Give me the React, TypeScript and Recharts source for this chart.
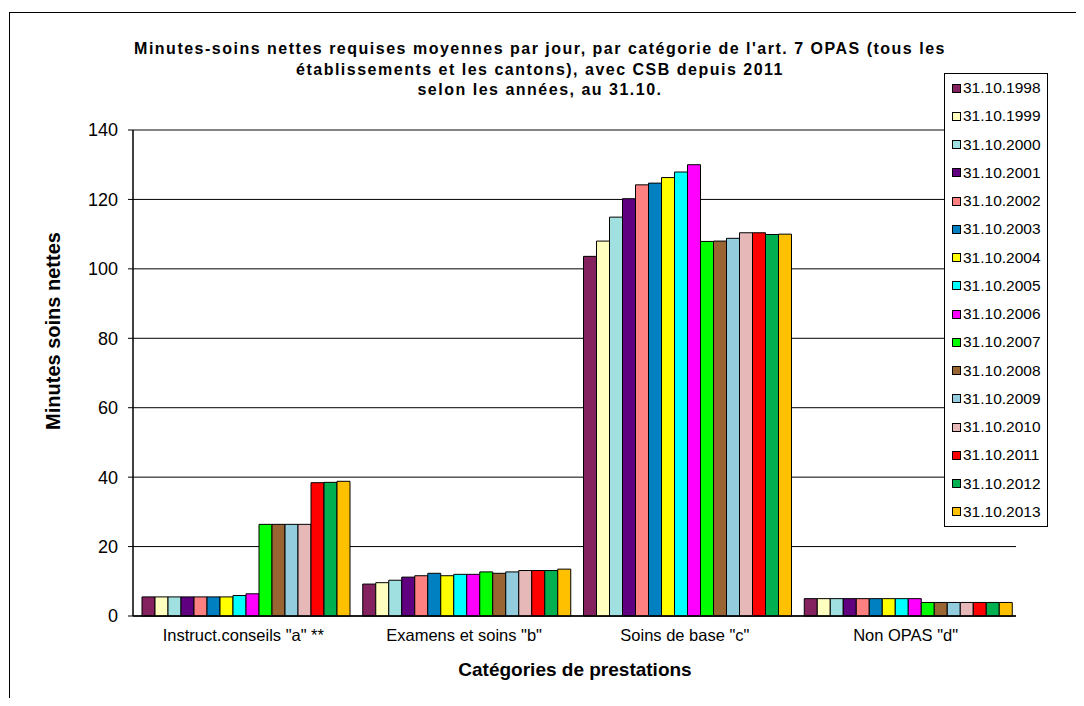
import { Bar, BarChart, CartesianGrid, ReferenceLine, XAxis, YAxis } from 'recharts'

const CATEGORIES = ['Instruct.conseils "a" **', 'Examens et soins "b"', 'Soins de base "c"', 'Non OPAS "d"']

const YEARS = [
  '31.10.1998', '31.10.1999', '31.10.2000', '31.10.2001', '31.10.2002', '31.10.2003', '31.10.2004', '31.10.2005',
  '31.10.2006', '31.10.2007', '31.10.2008', '31.10.2009', '31.10.2010', '31.10.2011', '31.10.2012', '31.10.2013',
]

const COLORS = [
  '#84215F', '#FFFFC0', '#A0E0E0', '#600080', '#FF8080', '#0080C0', '#FFFF00', '#00FFFF',
  '#FF00FF', '#00FF00', '#996633', '#93CDDD', '#E6B9B8', '#FF0000', '#00B050', '#FFC000',
]

// one value per year, 1998 -> 2013
const INSTRUCT = [5.5, 5.5, 5.5, 5.5, 5.5, 5.5, 5.5, 5.9, 6.4, 26.4, 26.4, 26.4, 26.4, 38.4, 38.5, 38.8]
const EXAMENS = [9.2, 9.6, 10.3, 11.2, 11.6, 12.3, 11.6, 12.0, 12.0, 12.7, 12.3, 12.7, 13.1, 13.1, 13.1, 13.5]
const SOINS_BASE = [103.6, 108.0, 114.9, 120.2, 124.2, 124.7, 126.3, 127.9, 130.0, 107.9, 108.0, 108.8, 110.4, 110.4, 109.9, 110.0]
const NON_OPAS = [5.0, 5.0, 5.0, 5.0, 5.0, 5.0, 5.0, 5.0, 5.0, 3.9, 3.9, 3.9, 3.9, 3.9, 3.9, 3.9]

const Y_TICKS = [0, 20, 40, 60, 80, 100, 120, 140]
const EDGE_TICKS = [0, 1, 2, 3, 4]

const TITLE = [
  "Minutes-soins nettes requises moyennes par jour, par catégorie de l'art. 7 OPAS (tous les",
  'établissements et les cantons), avec CSB depuis 2011',
  'selon les années, au 31.10.',
]

const SERIES_BY_CATEGORY = [INSTRUCT, EXAMENS, SOINS_BASE, NON_OPAS]

const data = CATEGORIES.map((cat, c) => {
  const row: Record<string, string | number> = { cat }
  YEARS.forEach((y, i) => {
    row[y] = SERIES_BY_CATEGORY[c][i]
  })
  return row
})

const FONT = '"Liberation Sans", Arial, sans-serif'

export default function App() {
  return (
    <div style={{ position: 'relative', width: 1068, height: 690, overflow: 'hidden', fontFamily: FONT, background: '#fff' }}>
      <div style={{ position: 'absolute', left: 1, top: 4, width: 2000, height: 2000, border: '1px solid #000' }} />
      <BarChart
        width={1068}
        height={690}
        data={data}
        margin={{ top: 122, right: 60, bottom: 0, left: 0 }}
        barCategoryGap={9}
        barGap={0}
      >
        <CartesianGrid vertical={false} stroke="#000" />
        {/* axis 0: line + tick marks between categories, Excel style */}
        <XAxis
          xAxisId={0}
          type="number"
          domain={[0, 4]}
          ticks={EDGE_TICKS}
          height={1}
          tick={false}
          tickSize={5}
          tickLine={{ stroke: '#000' }}
          axisLine={{ stroke: '#000', strokeWidth: 1.5 }}
        />
        {/* axis 1: category labels */}
        <XAxis
          xAxisId={1}
          dataKey="cat"
          height={81}
          tickLine={false}
          axisLine={false}
          tick={{ fontSize: 16.5, fill: '#000', fontFamily: FONT }}
          tickMargin={6}
        />
        <YAxis
          width={125}
          domain={[0, 140]}
          ticks={Y_TICKS}
          interval={0}
          tickSize={5}
          tickMargin={10}
          axisLine={{ stroke: '#000', strokeWidth: 1.5 }}
          tickLine={{ stroke: '#000' }}
          tick={{ fontSize: 18, fill: '#000', fontFamily: FONT }}
        />
        <ReferenceLine y={140} xAxisId={1} stroke="#888" />
        <ReferenceLine x={4} xAxisId={0} stroke="#888" />
        {YEARS.map((y, i) => (
          <Bar key={y} dataKey={y} xAxisId={1} fill={COLORS[i]} stroke="#000" strokeWidth={1} isAnimationActive={false} />
        ))}
      </BarChart>

      <div
        style={{
          position: 'absolute',
          left: 0,
          top: 31,
          width: 1064,
          textAlign: 'center',
          fontWeight: 'bold',
          fontSize: 16,
          letterSpacing: 1.5,
          lineHeight: '20.5px',
          color: '#000',
        }}
      >
        {TITLE.map((t) => (
          <div key={t}>{t}</div>
        ))}
      </div>

      <div
        style={{
          position: 'absolute',
          left: 367,
          width: 400,
          top: 651,
          lineHeight: '22px',
          textAlign: 'center',
          fontWeight: 'bold',
          fontSize: 19,
        }}
      >
        Catégories de prestations
      </div>

      <div
        style={{
          position: 'absolute',
          left: 45 - 150,
          top: 323 - 12,
          width: 300,
          height: 24,
          lineHeight: '24px',
          textAlign: 'center',
          fontWeight: 'bold',
          fontSize: 20,
          transform: 'rotate(-90deg)',
        }}
      >
        Minutes soins nettes
      </div>

      <div
        style={{
          position: 'absolute',
          left: 936,
          top: 65,
          width: 102,
          height: 452,
          border: '1px solid #000',
          background: '#fff',
          display: 'flex',
          flexDirection: 'column',
        }}
      >
        {YEARS.map((y, i) => (
          <div key={y} style={{ height: 28.25, display: 'flex', alignItems: 'center', paddingLeft: 7, fontSize: 15.5 }}>
            <span
              style={{
                display: 'inline-block',
                width: 7,
                height: 7,
                border: '1px solid #000',
                background: COLORS[i],
                marginRight: 2,
                flexShrink: 0,
              }}
            />
            {y}
          </div>
        ))}
      </div>
    </div>
  )
}
